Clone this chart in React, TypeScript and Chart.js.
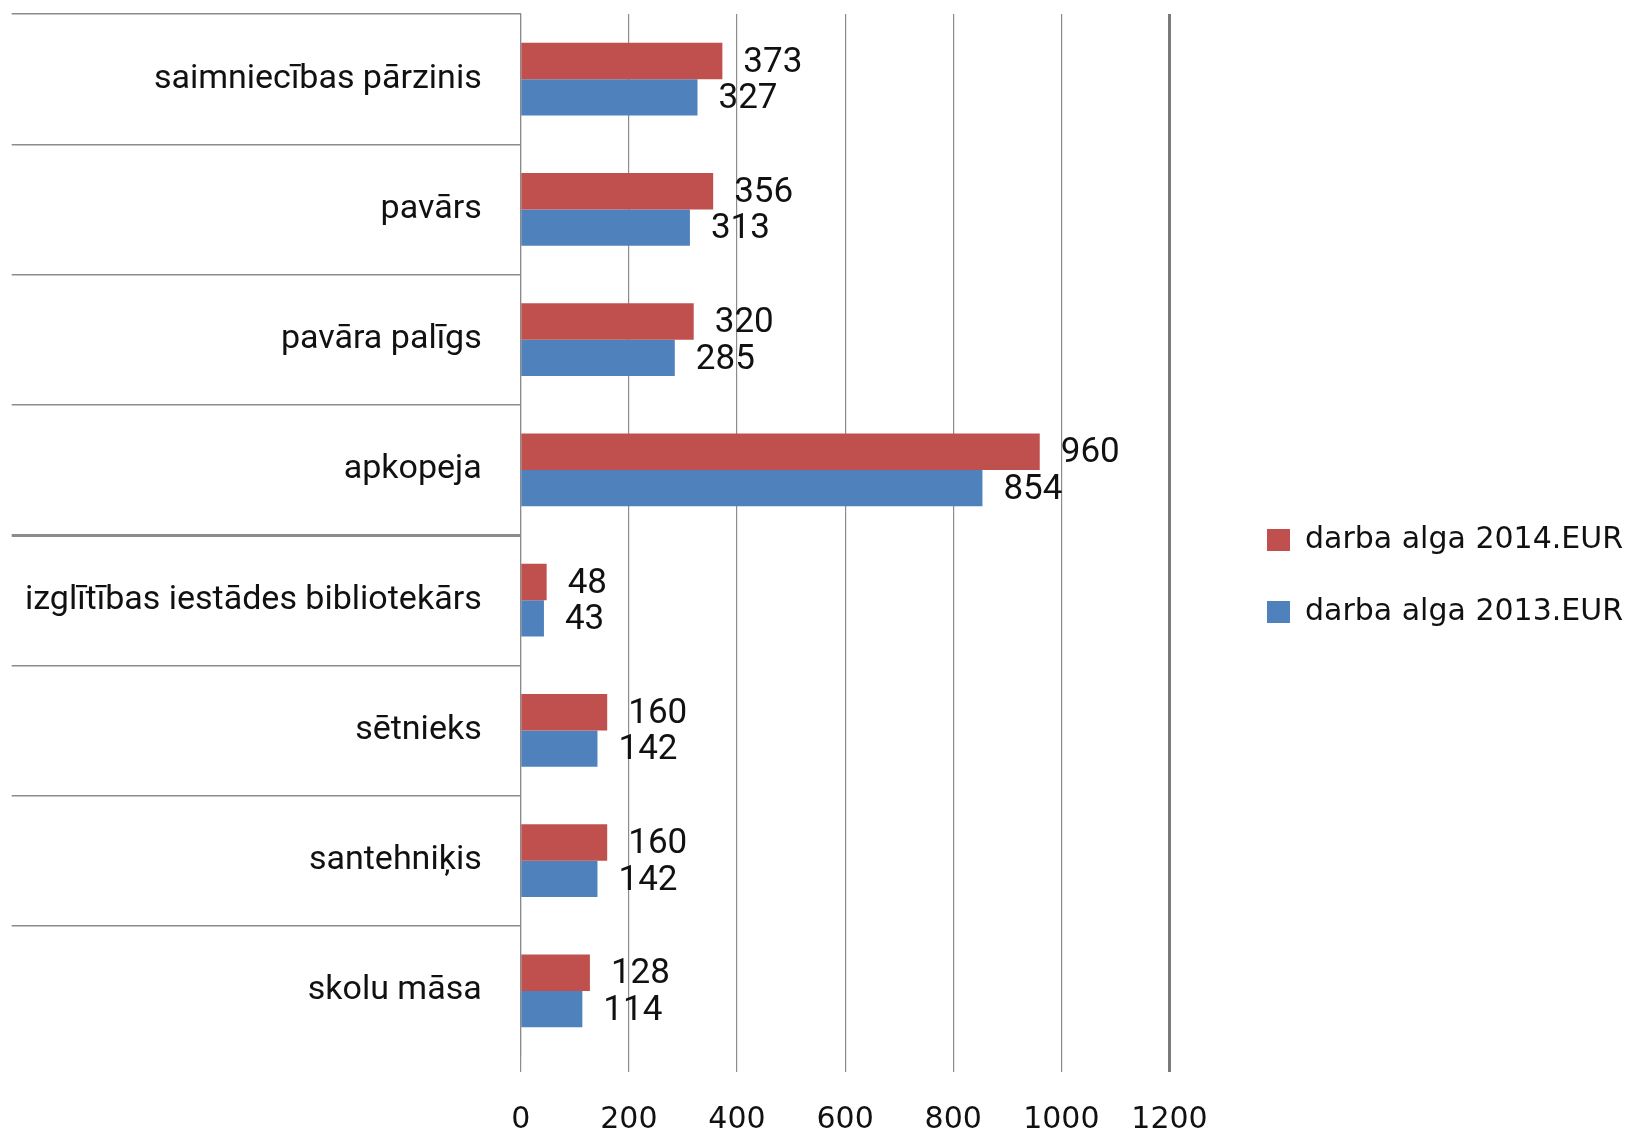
import React, { useEffect, useRef } from "react";
import { Chart, registerables } from "chart.js";

Chart.register(...registerables);

const categories = [
  "saimniecības pārzinis",
  "pavārs",
  "pavāra palīgs",
  "apkopeja",
  "izglītības iestādes bibliotekārs",
  "sētnieks",
  "santehniķis",
  "skolu māsa",
];
const salary2014 = [373, 356, 320, 960, 48, 160, 160, 128];
const salary2013 = [327, 313, 285, 854, 43, 142, 142, 114];
const seriesNames = ["darba alga 2014.EUR", "darba alga 2013.EUR"];
const xTickValues = [0, 200, 400, 600, 800, 1000, 1200];

const RED = "#C0504D";
const BLUE = "#4F81BD";

const legendFont = { family: "'DejaVu Sans'", size: 30 };

const valueLabels = {
  id: "valueLabels",
  afterDatasetsDraw(chart: any) {
    const ctx = chart.ctx;
    ctx.save();
    ctx.font = "35px Roboto";
    ctx.fillStyle = "#111";
    ctx.textBaseline = "middle";
    ctx.textAlign = "left";
    chart.data.datasets.forEach((ds: any, di: number) => {
      const meta = chart.getDatasetMeta(di);
      meta.data.forEach((bar: any, i: number) => {
        ctx.fillText(String(ds.data[i]), bar.x + 21, bar.y + 2);
      });
    });
    ctx.restore();
  },
};

function measureText(text: string, font: { family: string; size: number }) {
  const c = document.createElement("canvas").getContext("2d")!;
  c.font = `${font.size}px ${font.family}`;
  return c.measureText(text).width;
}

export default function App() {
  const canvasRef = useRef<HTMLCanvasElement | null>(null);

  useEffect(() => {
    if (!canvasRef.current) return;
    const textW = Math.max(...seriesNames.map((s) => measureText(s, legendFont)));
    const legendPad = 42;
    const boxW = 23;
    const legendLeft = 1267 - legendPad;
    const legendWidth = legendPad + boxW + legendFont.size / 2 + textW + 10;
    const padRight = 1633 - legendLeft - legendWidth;

    const chart = new Chart(canvasRef.current, {
      type: "bar",
      data: {
        labels: categories,
        datasets: [
          {
            label: seriesNames[0],
            data: salary2014,
            backgroundColor: RED,
            borderWidth: 0,
            categoryPercentage: 0.56,
            barPercentage: 1,
          },
          {
            label: seriesNames[1],
            data: salary2013,
            backgroundColor: BLUE,
            borderWidth: 0,
            categoryPercentage: 0.56,
            barPercentage: 1,
          },
        ],
      },
      options: {
        indexAxis: "y",
        responsive: true,
        maintainAspectRatio: false,
        animation: false,
        layout: { padding: { top: 14, right: padRight, left: 0, bottom: 0 } },
        plugins: {
          tooltip: { enabled: false },
          legend: {
            position: "right",
            align: "center",
            maxWidth: 800,
            labels: {
              font: legendFont,
              color: "#111",
              boxWidth: boxW,
              boxHeight: 22,
              padding: legendPad,
            },
          },
        },
        scales: {
          y: {
            type: "category",
            position: "left",
            offset: true,
            grid: {
              offset: true,
              drawOnChartArea: false,
              drawTicks: true,
              tickLength: 509,
              color: (ctx: any) => (ctx.type === "tick" ? "#8c8c8c" : "rgba(0,0,0,0)"),
              lineWidth: (ctx: any) => (ctx.index === 4 ? 3 : 1.5),
            },
            border: { display: true, color: "#8a8a8a", width: 1.2 },
            ticks: {
              autoSkip: false,
              padding: -470,
              color: "#111",
              font: { family: "Roboto", size: 34 },
            },
            afterFit: (s: any) => {
              s.width = 520.7;
            },
          },
          y2: {
            type: "category",
            position: "right",
            grid: { display: false, drawOnChartArea: false },
            ticks: { display: false },
            border: { display: false },
            afterFit: (s: any) => {
              s.width = 55.5;
            },
          },
          x: {
            type: "linear",
            position: "bottom",
            min: 0,
            max: 1200,
            afterBuildTicks: (s: any) => {
              s.ticks = xTickValues.map((v) => ({ value: v }));
            },
            grid: {
              drawOnChartArea: true,
              drawTicks: true,
              tickLength: 16,
              color: (ctx: any) => (ctx.tick && ctx.tick.value === 1200 ? "#7a7a7a" : "#8c8c8c"),
              lineWidth: (ctx: any) => (ctx.tick && ctx.tick.value === 1200 ? 3 : 1.2),
            },
            border: { display: false },
            ticks: {
              padding: 30,
              color: "#111",
              font: { family: "'DejaVu Sans'", size: 30 },
              callback: (v: any) => String(v),
            },
            afterFit: (s: any) => {
              s.height = 82;
            },
          },
        },
      },
      plugins: [valueLabels],
    } as any);
    return () => chart.destroy();
  }, []);

  return (
    <div
      style={{
        position: "fixed",
        left: 0,
        top: 0,
        width: 1633,
        height: 1138,
        background: "#fff",
      }}
    >
      <canvas ref={canvasRef} />
    </div>
  );
}
